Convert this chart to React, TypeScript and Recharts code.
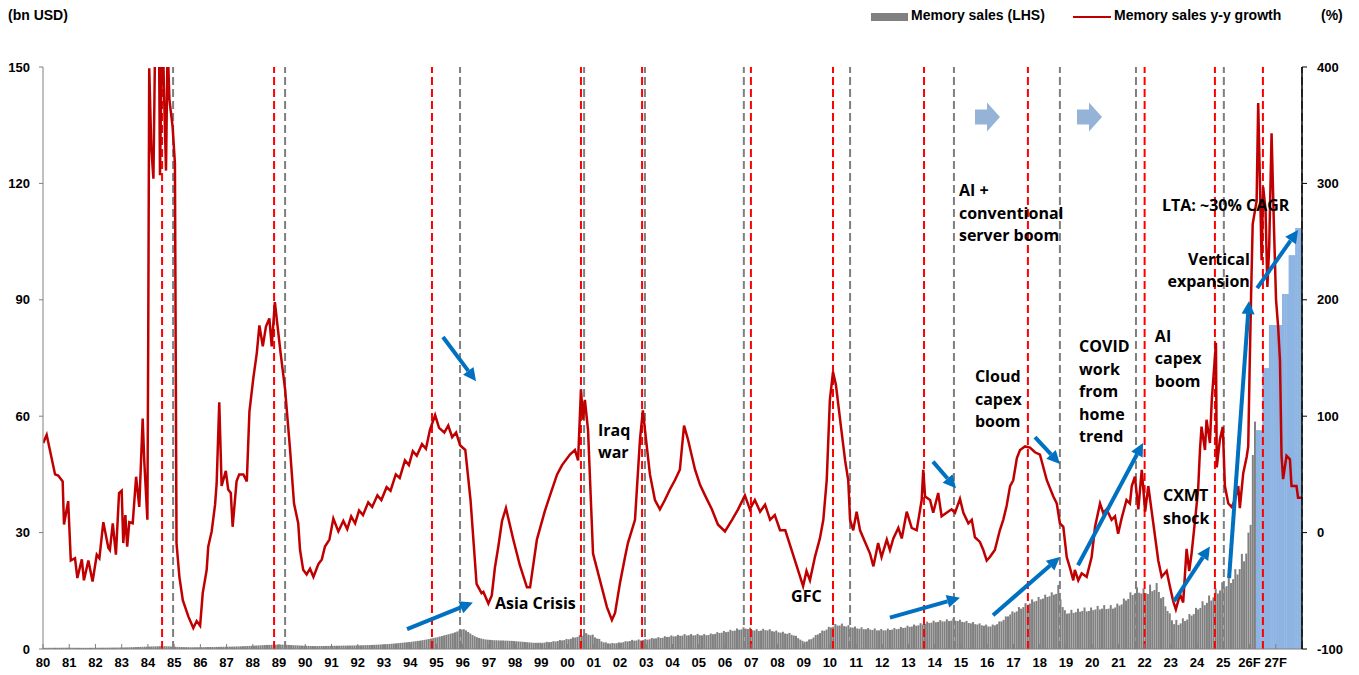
import React from "react";
import {
  ComposedChart,
  Bar,
  Line,
  XAxis,
  YAxis,
  ReferenceLine,
  ReferenceDot,
} from "recharts";

// x-axis labels, one per calendar year 1980..2027
const yearLabels = [
  "80", "81", "82", "83", "84", "85", "86", "87", "88", "89",
  "90", "91", "92", "93", "94", "95", "96", "97", "98", "99",
  "00", "01", "02", "03", "04", "05", "06", "07", "08", "09",
  "10", "11", "12", "13", "14", "15", "16", "17", "18", "19",
  "20", "21", "22", "23", "24", "25", "26F", "27F",
];

// monthly memory sales (bn USD), one row per year from 1980 to 2025
const salesByYear: number[][] = [
  [0.30, 0.30, 0.31, 0.31, 0.31, 0.32, 0.32, 0.32, 0.33, 0.33, 0.33, 0.34],
  [0.33, 0.32, 0.32, 0.31, 0.31, 0.30, 0.30, 0.30, 0.31, 0.31, 0.32, 0.32],
  [0.32, 0.33, 0.33, 0.34, 0.34, 0.35, 0.35, 0.36, 0.37, 0.37, 0.38, 0.39],
  [0.40, 0.41, 0.42, 0.44, 0.46, 0.48, 0.50, 0.52, 0.54, 0.56, 0.58, 0.60],
  [0.62, 0.64, 0.66, 0.68, 0.70, 0.72, 0.73, 0.72, 0.70, 0.68, 0.65, 0.62],
  [0.58, 0.55, 0.52, 0.50, 0.48, 0.47, 0.46, 0.45, 0.45, 0.45, 0.46, 0.47],
  [0.47, 0.48, 0.49, 0.50, 0.51, 0.52, 0.53, 0.54, 0.55, 0.56, 0.57, 0.58],
  [0.59, 0.60, 0.61, 0.63, 0.65, 0.67, 0.69, 0.71, 0.74, 0.77, 0.80, 0.83],
  [0.86, 0.89, 0.92, 0.95, 0.98, 1.01, 1.04, 1.06, 1.08, 1.10, 1.12, 1.13],
  [1.13, 1.12, 1.10, 1.08, 1.05, 1.02, 0.99, 0.96, 0.93, 0.90, 0.87, 0.85],
  [0.82, 0.80, 0.78, 0.77, 0.76, 0.76, 0.76, 0.77, 0.78, 0.79, 0.80, 0.81],
  [0.82, 0.83, 0.84, 0.85, 0.86, 0.87, 0.88, 0.89, 0.90, 0.91, 0.92, 0.93],
  [0.94, 0.95, 0.97, 0.99, 1.01, 1.03, 1.05, 1.07, 1.10, 1.13, 1.16, 1.19],
  [1.22, 1.26, 1.30, 1.35, 1.40, 1.45, 1.50, 1.56, 1.62, 1.68, 1.74, 1.80],
  [1.86, 1.93, 2.00, 2.08, 2.16, 2.25, 2.35, 2.45, 2.56, 2.68, 2.80, 2.92],
  [3.05, 3.20, 3.35, 3.50, 3.65, 3.80, 3.95, 4.10, 4.30, 4.50, 4.75, 5.00],
  [5.10, 4.80, 4.40, 4.00, 3.60, 3.30, 3.05, 2.85, 2.70, 2.55, 2.45, 2.40],
  [2.35, 2.30, 2.25, 2.25, 2.20, 2.20, 2.20, 2.15, 2.15, 2.10, 2.10, 2.05],
  [2.00, 1.95, 1.90, 1.85, 1.80, 1.75, 1.70, 1.65, 1.60, 1.60, 1.60, 1.62],
  [1.60, 1.65, 1.85, 1.75, 1.80, 2.00, 1.95, 2.05, 2.30, 2.20, 2.30, 2.60],
  [2.50, 2.65, 3.00, 2.95, 3.10, 3.55, 3.45, 3.70, 4.10, 3.70, 3.55, 3.70],
  [3.00, 2.70, 2.60, 1.95, 1.70, 1.70, 1.45, 1.40, 1.55, 1.45, 1.50, 1.70],
  [1.65, 1.75, 2.00, 1.95, 2.05, 2.35, 2.15, 2.20, 2.45, 2.20, 2.30, 2.55],
  [2.40, 2.50, 2.85, 2.70, 2.75, 3.05, 2.85, 2.90, 3.30, 3.10, 3.15, 3.50],
  [3.25, 3.30, 3.65, 3.40, 3.45, 3.85, 3.50, 3.55, 3.85, 3.50, 3.55, 3.90],
  [3.55, 3.50, 3.85, 3.55, 3.60, 4.00, 3.80, 3.90, 4.35, 4.10, 4.20, 4.65],
  [4.35, 4.45, 4.95, 4.65, 4.75, 5.30, 4.95, 5.05, 5.60, 5.25, 5.15, 5.50],
  [4.85, 4.75, 5.10, 4.65, 4.75, 5.20, 4.85, 4.80, 5.10, 4.60, 4.50, 4.75],
  [4.30, 4.20, 4.45, 4.00, 3.90, 4.15, 3.65, 3.45, 3.40, 2.80, 2.40, 2.10],
  [1.85, 1.95, 2.45, 2.55, 2.95, 3.60, 3.75, 4.10, 4.75, 4.70, 5.00, 5.70],
  [5.55, 5.75, 6.45, 6.05, 6.05, 6.55, 5.90, 5.80, 6.15, 5.60, 5.50, 5.80],
  [5.30, 5.20, 5.60, 5.10, 5.10, 5.40, 5.00, 4.90, 5.30, 4.80, 4.80, 5.15],
  [4.80, 4.80, 5.25, 4.90, 5.00, 5.40, 5.10, 5.20, 5.70, 5.40, 5.50, 6.00],
  [5.70, 5.80, 6.30, 6.00, 6.10, 6.65, 6.30, 6.50, 7.05, 6.70, 6.80, 7.30],
  [6.90, 7.00, 7.45, 7.10, 7.10, 7.65, 7.20, 7.30, 7.85, 7.30, 7.20, 7.55],
  [7.00, 6.90, 7.25, 6.70, 6.60, 6.95, 6.40, 6.30, 6.60, 6.10, 6.00, 6.30],
  [5.80, 5.80, 6.30, 6.10, 6.40, 7.10, 7.10, 7.50, 8.40, 8.40, 8.90, 9.70],
  [9.40, 9.70, 10.8, 10.4, 10.8, 11.8, 11.4, 11.7, 12.8, 12.2, 12.4, 13.4],
  [12.8, 13.0, 14.0, 13.4, 13.6, 14.6, 14.0, 14.2, 16.5, 12.8, 10.8, 10.0],
  [9.10, 9.20, 10.1, 9.30, 9.50, 10.4, 9.60, 9.80, 10.7, 9.70, 9.80, 10.7],
  [10.0, 10.2, 11.1, 10.2, 10.4, 11.3, 10.3, 10.4, 11.3, 10.4, 10.7, 11.7],
  [11.2, 11.5, 13.0, 12.5, 12.9, 14.6, 13.9, 14.3, 15.9, 14.5, 14.3, 15.6],
  [14.4, 14.2, 16.6, 14.9, 15.2, 17.0, 14.7, 13.1, 13.4, 11.0, 9.80, 9.20],
  [7.40, 6.40, 7.50, 6.20, 6.60, 7.90, 7.20, 7.60, 9.00, 8.60, 9.00, 10.6],
  [10.2, 10.6, 12.3, 11.3, 11.9, 13.8, 12.5, 13.3, 15.6, 14.3, 15.1, 17.2],
  [15.8, 16.2, 18.5, 17.0, 18.0, 20.6, 19.2, 20.6, 24.5, 22.6, 24.6, 30.0],
];

// 2026 Jan-Mar actuals, then quarterly forecast Q2'26 .. Q4'27
const sales2026Actual = [32.0, 50.0, 58.6];
const forecastQuarters = [56.4, 72.4, 83.5, 83.5, 91.5, 101.5, 108.5];

// memory sales y-y growth (%), [year, value]
const growthPoints: [number, number][] = [
  [1980.01, 77], [1980.14, 84], [1980.46, 50], [1980.58, 49], [1980.75, 44],
  [1980.8, 7], [1980.96, 27], [1981.06, -24], [1981.22, -22], [1981.31, -39],
  [1981.48, -23], [1981.56, -41], [1981.73, -24], [1981.89, -42], [1982.05, -19],
  [1982.15, -22], [1982.3, 9], [1982.49, -13], [1982.55, -15], [1982.66, 8],
  [1982.78, -19], [1982.9, 34], [1983.0, 36], [1983.06, -9], [1983.14, 15],
  [1983.21, -12], [1983.29, 9], [1983.42, 8], [1983.55, 48], [1983.67, 22],
  [1983.8, 98], [1983.86, 62], [1983.98, 11], [1984.01, 157], [1984.05, 399],
  [1984.13, 330], [1984.21, 304], [1984.28, 430], [1984.36, 470], [1984.42, 430],
  [1984.46, 307], [1984.55, 450], [1984.61, 382], [1984.69, 311], [1984.75, 420],
  [1984.82, 372], [1984.94, 349], [1985.03, 317], [1985.09, -9], [1985.2, -38],
  [1985.33, -58], [1985.54, -72], [1985.73, -82], [1985.86, -76], [1985.99, -80],
  [1986.09, -52], [1986.24, -32], [1986.3, -12], [1986.43, 1], [1986.56, 24],
  [1986.62, 42], [1986.72, 112], [1986.81, 40], [1986.97, 53], [1987.06, 37],
  [1987.16, 34], [1987.23, 5], [1987.38, 44], [1987.48, 50], [1987.64, 50],
  [1987.77, 44], [1987.87, 104], [1988.02, 133], [1988.15, 154], [1988.25, 178],
  [1988.38, 160], [1988.5, 177], [1988.63, 184], [1988.72, 160], [1988.84, 198],
  [1988.93, 180], [1989.06, 154], [1989.23, 123], [1989.42, 71], [1989.57, 25],
  [1989.73, 8], [1989.8, -15], [1989.92, -32], [1990.05, -36], [1990.18, -31],
  [1990.31, -38], [1990.5, -27], [1990.63, -23], [1990.75, -12], [1990.92, -6],
  [1991.07, 12], [1991.26, 1], [1991.45, 10], [1991.6, 3], [1991.75, 14],
  [1991.9, 8], [1992.05, 19], [1992.2, 15], [1992.4, 26], [1992.55, 22],
  [1992.75, 32], [1992.9, 28], [1993.1, 39], [1993.25, 36], [1993.45, 50],
  [1993.6, 47], [1993.8, 62], [1993.95, 58], [1994.1, 70], [1994.25, 66],
  [1994.45, 76], [1994.6, 72], [1994.75, 88], [1994.95, 101], [1995.1, 90],
  [1995.3, 86], [1995.45, 92], [1995.6, 82], [1995.75, 86], [1995.9, 75],
  [1996.1, 71], [1996.3, 28], [1996.53, -44], [1996.72, -52], [1996.79, -51],
  [1996.98, -61], [1997.11, -54], [1997.23, -30], [1997.36, -12], [1997.5, 10],
  [1997.65, 21], [1997.93, -6], [1998.18, -28], [1998.45, -47], [1998.57, -47],
  [1998.83, -6], [1999.14, 19], [1999.33, 32], [1999.6, 50], [1999.79, 58],
  [2000.09, 67], [2000.28, 71], [2000.4, 62], [2000.51, 123], [2000.59, 97],
  [2000.66, 114], [2000.78, 88], [2000.97, -18], [2001.5, -64], [2001.69, -75],
  [2001.81, -69], [2002.0, -43], [2002.19, -21], [2002.3, -9], [2002.57, 11],
  [2002.76, 80], [2002.87, 105], [2002.99, 80], [2003.14, 50], [2003.33, 28],
  [2003.52, 20], [2003.71, 28], [2003.9, 37], [2004.09, 45], [2004.28, 54],
  [2004.44, 92], [2004.59, 80], [2004.86, 54], [2005.05, 41], [2005.24, 32],
  [2005.5, 20], [2005.73, 7], [2006.0, 1], [2006.27, 11], [2006.5, 20],
  [2006.76, 32], [2006.95, 20], [2007.14, 28], [2007.34, 18], [2007.53, 24],
  [2007.72, 11], [2007.9, 15], [2008.1, 2], [2008.3, 2], [2008.67, -24],
  [2008.98, -46], [2009.11, -33], [2009.24, -41], [2009.43, -21], [2009.62, -5],
  [2009.75, 11], [2009.88, 45], [2010.0, 114], [2010.12, 138], [2010.23, 127],
  [2010.39, 97], [2010.58, 62], [2010.7, 45], [2010.77, 11], [2010.89, 2],
  [2011.02, 18], [2011.15, 2], [2011.34, -8], [2011.53, -18], [2011.66, -29],
  [2011.84, -9], [2011.97, -21], [2012.17, -6], [2012.29, -15], [2012.42, -5],
  [2012.61, 4], [2012.74, -5], [2012.93, 18], [2013.12, 4], [2013.31, 2],
  [2013.5, 28], [2013.56, 54], [2013.63, 31], [2013.82, 28], [2013.94, 17],
  [2014.13, 34], [2014.26, 14], [2014.45, 17], [2014.64, 20], [2014.77, 17],
  [2014.96, 29], [2015.09, 17], [2015.28, 8], [2015.41, 11], [2015.53, -4],
  [2015.72, -8], [2015.85, -15], [2015.98, -24], [2016.1, -21], [2016.29, -15],
  [2016.48, 2], [2016.61, 11], [2016.74, 23], [2016.87, 40], [2016.99, 45],
  [2017.13, 64], [2017.25, 71], [2017.44, 74], [2017.63, 73], [2017.82, 69],
  [2018.01, 67], [2018.27, 45], [2018.52, 31], [2018.65, 25], [2018.77, 8],
  [2018.9, 5], [2019.03, -21], [2019.15, -30], [2019.28, -41], [2019.34, -32],
  [2019.47, -41], [2019.6, -35], [2019.79, -38], [2019.98, -21], [2020.11, 5],
  [2020.3, 25], [2020.42, 17], [2020.55, 20], [2020.74, 11], [2020.87, 14],
  [2020.99, -1], [2021.12, 12], [2021.31, 28], [2021.44, 25], [2021.51, 40],
  [2021.63, 48], [2021.76, 20], [2021.89, 54], [2022.02, 18], [2022.14, 40],
  [2022.33, 8], [2022.52, -24], [2022.65, -38], [2022.84, -33], [2022.97, -47],
  [2023.09, -59], [2023.19, -66], [2023.35, -53], [2023.47, -60], [2023.6, -14],
  [2023.7, -33], [2023.79, -18], [2023.92, 10], [2024.04, 37], [2024.11, 71],
  [2024.17, 91], [2024.3, 71], [2024.36, 97], [2024.49, 77], [2024.56, 114],
  [2024.72, 163], [2024.75, 56], [2024.87, 80], [2024.98, 91], [2025.06, 40],
  [2025.19, 25], [2025.32, 22], [2025.44, 28], [2025.57, 40], [2025.63, 21],
  [2025.76, 51], [2025.89, 65], [2025.95, 74], [2026.0, 137], [2026.06, 205],
  [2026.12, 265], [2026.27, 285], [2026.33, 369], [2026.4, 297], [2026.46, 234],
  [2026.52, 297], [2026.61, 277], [2026.68, 211], [2026.75, 246], [2026.84, 343],
  [2026.93, 263], [2027.01, 200], [2027.09, 177], [2027.16, 148], [2027.22, 66],
  [2027.28, 46], [2027.41, 66], [2027.54, 63], [2027.6, 40], [2027.79, 40],
  [2027.85, 30], [2027.99, 30],
];

// cycle markers (year fractions)
const redMarkers = [
  1984.54, 1988.81, 1994.83, 2000.51, 2002.84, 2006.99, 2010.12, 2013.59,
  2017.55, 2022.0, 2024.68, 2026.51,
];
const grayMarkers = [
  1984.96, 1989.23, 1995.9, 2000.63, 2002.95, 2006.72, 2010.77, 2014.73,
  2018.77, 2021.67, 2025.02, 2028,
];

const FIRST_YEAR = 1980;
const LABEL_FONT = "'Liberation Sans', Arial, sans-serif";
const NOTE_FONT = "'Open Sans', 'Noto Sans', sans-serif";
const ARROW_BLUE = "#0070C0";

// monthly bar table
const barRows: { t: number; sales?: number; fc?: number }[] = [];
salesByYear.forEach((row, y) => {
  row.forEach((v, m) => {
    barRows.push({ t: FIRST_YEAR + y + (m + 0.5) / 12, sales: v });
  });
});
sales2026Actual.forEach((v, m) => {
  barRows.push({ t: 2026 + (m + 0.5) / 12, sales: v });
});
forecastQuarters.forEach((v, q) => {
  for (let k = 0; k < 3; k++) {
    const idx = 3 + q * 3 + k;
    barRows.push({ t: 2026 + (idx + 0.5) / 12, fc: v });
  }
});

const growthData = growthPoints.map(([t, g]) => ({ t, g }));
const yearTicks = yearLabels.map((_, i) => FIRST_YEAR + i);

// text notes and arrows, placed in (year, % growth) coordinates
const notes: { x: number; y: number; lines: string[]; anchor?: "start" | "end" }[] = [
  { x: 1997.23, y: -66, lines: ["Asia Crisis"] },
  { x: 2001.16, y: 83, lines: ["Iraq", "war"] },
  { x: 2008.52, y: -60, lines: ["GFC"] },
  { x: 2014.92, y: 289, lines: ["AI +", "conventional", "server boom"] },
  { x: 2015.53, y: 129, lines: ["Cloud", "capex", "boom"] },
  { x: 2019.5, y: 155, lines: ["COVID", "work", "from", "home", "trend"] },
  { x: 2022.39, y: 164, lines: ["AI", "capex", "boom"] },
  { x: 2022.7, y: 27, lines: ["CXMT", "shock"] },
  { x: 2026.01, y: 230, lines: ["Vertical", "expansion"], anchor: "end" },
  { x: 2022.66, y: 276, lines: ["LTA: ~30% CAGR"] },
];

const arrows: [number, number, number, number][] = [
  [1995.25, 168, 1996.51, 130],
  [1993.88, -83, 1996.39, -60],
  [2012.29, -73, 2014.96, -56],
  [2016.22, -71, 2018.77, -21],
  [2013.93, 61, 2014.81, 38],
  [2017.82, 82, 2018.77, 59],
  [2019.46, -28, 2021.94, 77],
  [2023.12, -59, 2024.49, -12],
  [2025.22, -39, 2025.98, 199],
  [2026.29, 210, 2027.85, 260],
];

const blockArrows = [2015.99, 2019.88];

const YearTick = (props: any) => {
  const { x, y, payload } = props;
  const label = yearLabels[Math.round(payload.value) - FIRST_YEAR];
  return (
    <g>
      <line x1={x} x2={x} y1={y} y2={y - 5} stroke="#808080" strokeWidth={1} />
      <text
        x={x}
        y={y + 18}
        textAnchor="middle"
        fontFamily={LABEL_FONT}
        fontWeight={700}
        fontSize={13}
        fill="#000"
      >
        {label}
      </text>
    </g>
  );
};

// monthly bar drawn with a fixed width around its centre
const monthBar = (w: number, color: string) => (p: any) => {
  if (!p.height || p.height <= 0) return <g />;
  const cx = p.x + p.width / 2;
  return <rect x={cx - w / 2} y={p.y} width={w} height={p.height} fill={color} />;
};

const arrowShape = (p: any) => {
  const { x1, y1, x2, y2 } = p;
  const dx = x2 - x1;
  const dy = y2 - y1;
  const len = Math.hypot(dx, dy) || 1;
  const ux = dx / len;
  const uy = dy / len;
  const head = 13;
  const half = 6.5;
  const bx = x2 - ux * head;
  const by = y2 - uy * head;
  return (
    <g>
      <line x1={x1} y1={y1} x2={bx} y2={by} stroke={ARROW_BLUE} strokeWidth={4} />
      <polygon
        points={`${x2},${y2} ${bx - uy * half},${by + ux * half} ${bx + uy * half},${by - ux * half}`}
        fill={ARROW_BLUE}
      />
    </g>
  );
};

const noteShape = (n: (typeof notes)[number]) => (p: any) => (
  <text
    x={p.cx}
    y={p.cy}
    textAnchor={n.anchor || "start"}
    fontFamily={NOTE_FONT}
    fontWeight={700}
    fontSize={16}
    fill="#000"
  >
    {n.lines.map((l, i) => (
      <tspan key={i} x={p.cx} dy={i === 0 ? 0 : 22.5}>
        {l}
      </tspan>
    ))}
  </text>
);

const blockArrowShape = (p: any) => {
  const { cx, cy } = p;
  return (
    <polygon
      points={`${cx - 12},${cy - 7.5} ${cx},${cy - 7.5} ${cx},${cy - 14.5} ${cx + 13},${cy} ${cx},${cy + 14.5} ${cx},${cy + 7.5} ${cx - 12},${cy + 7.5}`}
      fill="#95B3D7"
    />
  );
};

const App = () => {
  return (
    <div style={{ position: "relative", width: 1359, height: 675, margin: -8, background: "#fff" }}>
      <div
        style={{
          position: "absolute",
          left: 8,
          top: 7,
          fontFamily: LABEL_FONT,
          fontWeight: 700,
          fontSize: 14,
        }}
      >
        (bn USD)
      </div>
      <div
        style={{
          position: "absolute",
          left: 871,
          top: 13,
          width: 37,
          height: 8,
          background: "#808080",
        }}
      />
      <div
        style={{
          position: "absolute",
          left: 911,
          top: 7,
          fontFamily: LABEL_FONT,
          fontWeight: 700,
          fontSize: 14,
          whiteSpace: "nowrap",
        }}
      >
        Memory sales (LHS)
      </div>
      <div
        style={{
          position: "absolute",
          left: 1073,
          top: 16,
          width: 38,
          height: 2,
          background: "#C00000",
        }}
      />
      <div
        style={{
          position: "absolute",
          left: 1114,
          top: 7,
          fontFamily: LABEL_FONT,
          fontWeight: 700,
          fontSize: 14,
          whiteSpace: "nowrap",
        }}
      >
        Memory sales y-y growth
      </div>
      <div
        style={{
          position: "absolute",
          left: 1321,
          top: 7,
          fontFamily: LABEL_FONT,
          fontWeight: 700,
          fontSize: 14,
        }}
      >
        (%)
      </div>

      <ComposedChart
        width={1359}
        height={675}
        data={barRows}
        margin={{ top: 67, right: 0, bottom: 0, left: 0 }}
      >
        <XAxis
          dataKey="t"
          type="number"
          domain={[1980, 2028]}
          ticks={yearTicks}
          interval={0}
          tick={<YearTick />}
          tickLine={false}
          tickSize={0}
          tickMargin={0}
          height={26}
          axisLine={{ stroke: "#808080" }}
          allowDataOverflow
        />
        <XAxis xAxisId="f" dataKey="t" type="number" domain={[1980, 2028]} hide allowDataOverflow />
        <YAxis
          yAxisId="lhs"
          orientation="left"
          domain={[0, 150]}
          ticks={[0, 30, 60, 90, 120, 150]}
          width={43}
          tickSize={4}
          tickMargin={9}
          axisLine={{ stroke: "#808080" }}
          tickLine={{ stroke: "#808080" }}
          tick={{ fontFamily: LABEL_FONT, fontWeight: 700, fontSize: 13, fill: "#000" }}
        />
        <YAxis
          yAxisId="pct"
          orientation="right"
          domain={[-100, 400]}
          ticks={[-100, 0, 100, 200, 300, 400]}
          width={57}
          tickSize={5}
          tickMargin={10}
          allowDataOverflow
          axisLine={{ stroke: "#000", strokeWidth: 1.5 }}
          tickLine={{ stroke: "#000" }}
          tick={{ fontFamily: LABEL_FONT, fontWeight: 700, fontSize: 13, fill: "#000" }}
        />

        <Bar
          yAxisId="lhs"
          dataKey="sales"
          fill="#808080"
          barSize={2}
          shape={monthBar(2.0, "#808080")}
          isAnimationActive={false}
        />
        <Bar
          xAxisId="f"
          yAxisId="lhs"
          dataKey="fc"
          fill="#8DB4E2"
          barSize={2}
          shape={monthBar(2.6, "#8DB4E2")}
          isAnimationActive={false}
        />

        {redMarkers.map((x) => (
          <ReferenceLine
            key={`r${x}`}
            x={x}
            yAxisId="lhs"
            stroke="#FF0000"
            strokeWidth={2}
            strokeDasharray="8 4"
          />
        ))}
        {grayMarkers.map((x) => (
          <ReferenceLine
            key={`g${x}`}
            x={x}
            yAxisId="lhs"
            stroke="#7F7F7F"
            strokeWidth={2}
            strokeDasharray="8 4"
          />
        ))}

        <Line
          data={growthData}
          yAxisId="pct"
          dataKey="g"
          type="linear"
          stroke="#C00000"
          strokeWidth={2.5}
          dot={false}
          isAnimationActive={false}
        />

        {arrows.map(([x1, y1, x2, y2], i) => (
          <ReferenceLine
            key={`a${i}`}
            yAxisId="pct"
            segment={[
              { x: x1, y: y1 },
              { x: x2, y: y2 },
            ]}
            shape={arrowShape}
          />
        ))}
        {blockArrows.map((x) => (
          <ReferenceDot key={`b${x}`} x={x} y={357} yAxisId="pct" r={0} shape={blockArrowShape} />
        ))}
        {notes.map((n, i) => (
          <ReferenceDot
            key={`n${i}`}
            x={n.x}
            y={n.y}
            yAxisId="pct"
            r={0}
            shape={noteShape(n)}
          />
        ))}
      </ComposedChart>
    </div>
  );
};

export default App;
